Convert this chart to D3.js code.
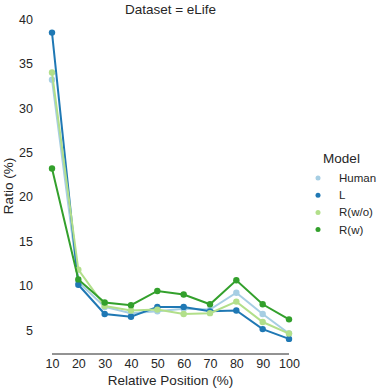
<!DOCTYPE html>
<meta charset="utf-8" />
<script src="https://d3js.org/d3.v7.min.js"></script>
<style>
  body { margin: 0; background: #fff; }
  text { font-family: "Liberation Sans", Arial, sans-serif; fill: #262626; }
</style>
<svg width="391" height="391" id="chart"></svg>
<script>
  // data
  var positions = [10, 20, 30, 40, 50, 60, 70, 80, 90, 100];
  var models = ["Human", "L", "R(w/o)", "R(w)"];
  var colors = ["#a6cee3", "#1f78b4", "#b2df8a", "#33a02c"];
  var human = [33.2, 10.4, 7.6, 6.9, 7.1, 7.4, 7.3, 9.2, 6.8, 4.6];
  var lModel = [38.5, 10.1, 6.8, 6.5, 7.6, 7.6, 7.1, 7.2, 5.1, 4.0];
  var rWithout = [34.0, 11.8, 7.7, 7.2, 7.3, 6.8, 6.9, 8.2, 5.9, 4.6];
  var rWith = [23.2, 10.7, 8.1, 7.8, 9.4, 9.0, 7.9, 10.6, 7.9, 6.2];
  var yTicks = [5, 10, 15, 20, 25, 30, 35, 40];

  var series = [human, lModel, rWithout, rWith];

  var svg = d3.select("#chart");

  var x = d3.scalePoint()
    .domain(positions)
    .range([52, 289]);

  var y = d3.scaleLinear()
    .domain([5, 40])
    .range([330, 19.3]);

  // x axis, trimmed to the first and last category
  var xAxis = svg.append("g")
    .attr("transform", "translate(0,354)")
    .call(d3.axisBottom(x).tickSize(0).tickPadding(5));
  xAxis.select(".domain").attr("d", "M" + x(10) + ",0H" + x(100))
    .attr("stroke", "#262626").attr("stroke-width", 1);
  xAxis.selectAll("text").style("font-size", "12.5px")
    .style("font-family", "'Liberation Sans', Arial, sans-serif").attr("fill", "#262626");

  // y axis, no spine
  var yAxis = svg.append("g")
    .attr("transform", "translate(36,0)")
    .call(d3.axisLeft(y).tickValues(yTicks).tickSize(0).tickPadding(3));
  yAxis.select(".domain").remove();
  yAxis.selectAll("text").style("font-size", "12.5px")
    .style("font-family", "'Liberation Sans', Arial, sans-serif").attr("fill", "#262626");

  // lines and points
  series.forEach(function (vals, i) {
    var pts = positions.map(function (p, j) { return [p, vals[j]]; });
    svg.append("path")
      .datum(pts)
      .attr("fill", "none")
      .attr("stroke", colors[i])
      .attr("stroke-width", 2)
      .attr("d", d3.line()
        .x(function (d) { return x(d[0]); })
        .y(function (d) { return y(d[1]); }));
    svg.append("g")
      .selectAll("circle")
      .data(pts)
      .enter()
      .append("circle")
      .attr("cx", function (d) { return x(d[0]); })
      .attr("cy", function (d) { return y(d[1]); })
      .attr("r", 3.2)
      .style("fill", colors[i]);
  });

  // title
  svg.append("text")
    .attr("x", 170.5)
    .attr("y", 14)
    .attr("text-anchor", "middle")
    .style("font-size", "13.5px")
    .text("Dataset = eLife");

  // axis labels
  svg.append("text")
    .attr("x", 170.5)
    .attr("y", 385)
    .attr("text-anchor", "middle")
    .style("font-size", "13.5px")
    .text("Relative Position (%)");

  svg.append("text")
    .attr("text-anchor", "middle")
    .attr("transform", "translate(13,186)rotate(-90)")
    .style("font-size", "13.5px")
    .text("Ratio (%)");

  // legend
  svg.append("text")
    .attr("x", 341.5)
    .attr("y", 163)
    .attr("text-anchor", "middle")
    .style("font-size", "13.5px")
    .text("Model");

  var legend = svg.append("g")
    .selectAll("g")
    .data(models)
    .enter()
    .append("g")
    .attr("transform", function (d, i) { return "translate(318," + (178 + i * 17.2) + ")"; });
  legend.append("circle")
    .attr("r", 2.5)
    .style("fill", function (d, i) { return colors[i]; });
  legend.append("text")
    .attr("x", 21)
    .attr("y", 4)
    .style("font-size", "11.5px")
    .text(function (d) { return d; });
</script>
